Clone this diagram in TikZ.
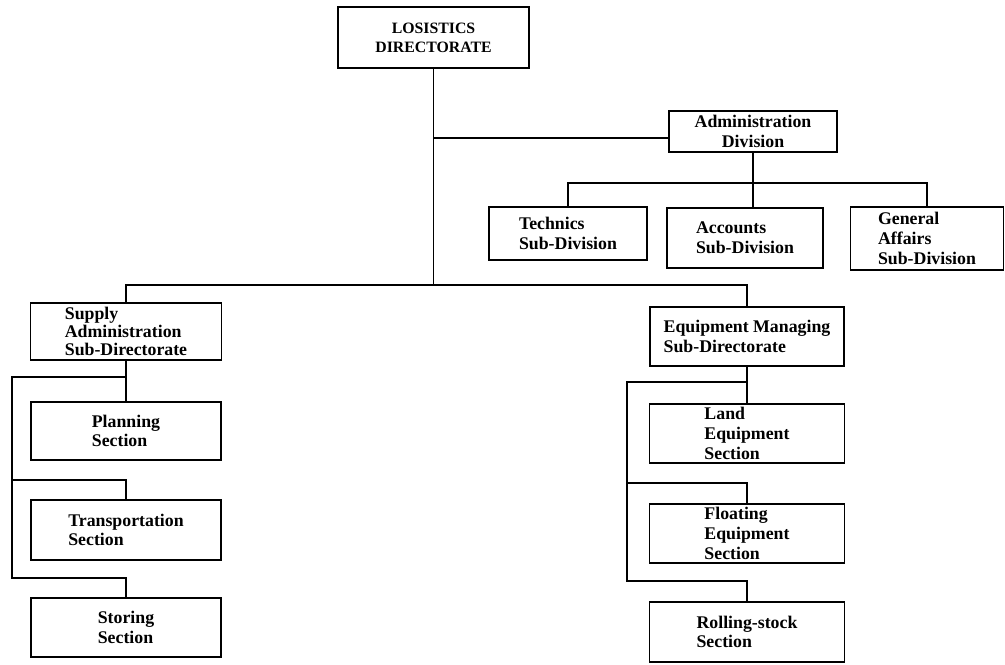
\documentclass[tikz,border=0pt]{standalone}
\usepackage{fontspec}
\setmainfont{Liberation Serif}
\usepackage{tikz}
\usetikzlibrary{positioning, calc}

\begin{document}
\begin{tikzpicture}[
    x=0.5pt, y=-0.5pt,
    box/.style={rectangle, draw, line width=0.8pt, align=left, inner sep=1pt, font=\bfseries\fontsize{8.9}{9.8}\selectfont},
    link/.style={line width=0.8pt}
]
\useasboundingbox (0,0) rectangle (1005,664);

% top and administration division
\node[box, align=center, font=\bfseries\fontsize{7.9}{9.6}\selectfont, minimum width=95.5pt, minimum height=30.5pt] (top) at (433.5,37.5) {LOSISTICS\\DIRECTORATE};
\node[box, align=center, minimum width=84pt, minimum height=20.5pt] (admin) at (753,131.5) {Administration\\Division};

\node[box, minimum width=79pt, minimum height=26.5pt] (technics) at (568,233.5) {Technics\\Sub-Division};
\node[box, minimum width=78pt, minimum height=30pt] (accounts) at (745,238) {Accounts\\Sub-Division};
\node[box, minimum width=76.5pt, minimum height=31.5pt] (general) at (927,238.5) {General\\Affairs\\Sub-Division};

% sub-directorates
\node[box, inner sep=0pt, font=\bfseries\fontsize{8.9}{9.2}\selectfont, minimum width=95.5pt, minimum height=28.5pt] (supply) at (126,331.5) {Supply\\Administration\\Sub-Directorate};
\node[box, minimum width=97pt, minimum height=29.5pt] (equip) at (747,336.5) {Equipment Managing\\Sub-Directorate};

% sections (left)
\node[box, minimum width=95pt, minimum height=29pt] (planning) at (126,431) {Planning\\Section};
\node[box, minimum width=95pt, minimum height=30pt] (transport) at (126,530) {Transportation\\Section};
\node[box, minimum width=95pt, minimum height=29.5pt] (storing) at (126,627.5) {Storing\\Section};

% sections (right)
\node[box, minimum width=97.5pt, minimum height=29.5pt] (land) at (747,433.5) {Land\\Equipment\\Section};
\node[box, minimum width=97.5pt, minimum height=29.5pt] (floating) at (747,533.5) {Floating\\Equipment\\Section};
\node[box, minimum width=97.5pt, minimum height=30pt] (rolling) at (747,632) {Rolling-stock\\Section};

% bus lines
\coordinate (mainbus) at (433,285);
\coordinate (adminbus) at (753,183);
\coordinate (lrail) at (12,377);
\coordinate (rrail) at (627,382);

\draw[link] (top.south) -- (top.south |- mainbus);
\draw[link] (top.south |- 0,138) -- (admin.west |- 0,138);
\draw[link] (supply.north) -- (supply.north |- mainbus) -- (equip.north |- mainbus) -- (equip.north);

\draw[link] (admin.south) -- (admin.south |- accounts.north);
\draw[link] (technics.north) -- (technics.north |- adminbus) -- (general.north |- adminbus) -- (general.north);

% left column
\draw[link] (supply.south) -- (planning.north);
\draw[link] (planning.north |- lrail) -- (lrail) -- (lrail |- 0,578) -- (storing.north |- 0,578) -- (storing.north);
\draw[link] (lrail |- 0,480) -- (transport.north |- 0,480) -- (transport.north);

% right column
\draw[link] (equip.south) -- (land.north);
\draw[link] (equip.south |- rrail) -- (rrail) -- (rrail |- 0,581) -- (rolling.north |- 0,581) -- (rolling.north);
\draw[link] (rrail |- 0,483) -- (floating.north |- 0,483) -- (floating.north);

\end{tikzpicture}
\end{document}
